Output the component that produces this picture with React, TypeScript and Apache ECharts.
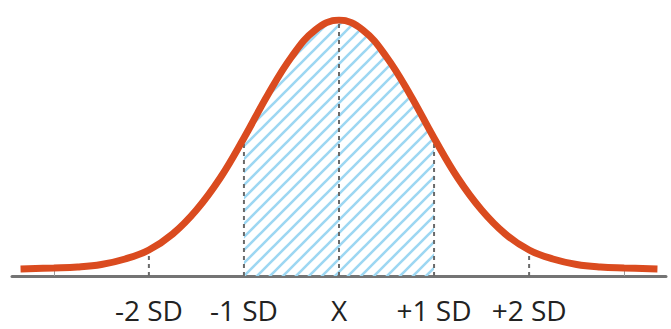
import React, { useEffect, useRef } from "react";
import * as echarts from "echarts";

// x positions in SD units, curve heights (px above the axis)
const xs = [-3.35, -3, -2.75, -2.5, -2.25, -2, -1.75, -1.5, -1.25, -1, -0.75, -0.5, -0.25, 0, 0.25, 0.5, 0.75, 1, 1.25, 1.5, 1.75, 2, 2.25, 2.5, 2.75, 3, 3.35];
const curve = [7, 8, 9, 11.5, 17, 26, 42, 66, 98, 138, 181, 219, 246, 256, 246, 219, 181, 138, 98, 66, 42, 26, 17, 11.5, 9, 8, 7];
const guideXs = [-2, -1, 0, 1, 2];
const tickLabels = ["-2 SD", "-1 SD", "X", "+1 SD", "+2 SD"];
const edgeTicks = [-3, 3];
const shadeFrom = -1;
const shadeTo = 1;

const HATCH = 13;
const hatchSvg =
  `<svg xmlns='http://www.w3.org/2000/svg' width='${HATCH}' height='${HATCH}'>` +
  `<path d='M-2,2 L2,-2 M0,${HATCH} L${HATCH},0 M${HATCH - 2},${HATCH + 2} L${HATCH + 2},${HATCH - 2}' stroke='#9dd7f2' stroke-width='2.6' fill='none'/></svg>`;
const hatchUrl = "data:image/svg+xml;charset=utf-8," + encodeURIComponent(hatchSvg);

export default function App() {
  const ref = useRef<HTMLDivElement>(null);
  useEffect(() => {
    if (!ref.current) return;
    const chart = echarts.init(ref.current, undefined, { renderer: "svg" });
    const curveData = xs.map((x, i) => [x, curve[i]]);
    const shadeData = xs
      .map((x, i) => [x, curve[i]])
      .filter(([x]) => x >= shadeFrom && x <= shadeTo);
    const guideSeries = guideXs.map((gx) => {
      const i = xs.indexOf(gx);
      return {
        type: "line",
        data: [
          [gx, 0],
          [gx, curve[i]],
        ],
        showSymbol: false,
        symbol: "none",
        silent: true,
        z: 3,
        lineStyle: { color: "#6a6a6a", width: 2, type: [4, 4] },
      };
    });
    chart.setOption({
      animation: false,
      grid: { left: 12, right: 5, top: 20, bottom: 53 },
      xAxis: {
        type: "value",
        min: -3.44,
        max: 3.44,
        splitLine: { show: false },
        axisLine: { lineStyle: { color: "#747474", width: 3 } },
        axisTick: {
          show: true,
          inside: true,
          length: 5,
          customValues: edgeTicks,
          lineStyle: { color: "#9a9a9a", width: 1 },
        },
        axisLabel: {
          customValues: guideXs,
          formatter: (v: number) => tickLabels[guideXs.indexOf(Math.round(v))] ?? "",
          fontFamily: "Open Sans",
          fontSize: 28,
          lineHeight: 22,
          color: "#222222",
          margin: 23,
        },
      },
      yAxis: { type: "value", min: 0, max: 256, show: false },
      series: [
        {
          type: "line",
          data: shadeData,
          smooth: 0.4,
          showSymbol: false,
          symbol: "none",
          silent: true,
          z: 1,
          lineStyle: { width: 0 },
          areaStyle: {
            opacity: 1,
            color: { image: hatchUrl, repeat: "repeat", imageWidth: HATCH, imageHeight: HATCH },
          },
        },
        ...guideSeries,
        {
          type: "line",
          data: curveData,
          smooth: 0.4,
          showSymbol: false,
          symbol: "none",
          z: 5,
          lineStyle: { color: "#da4b1f", width: 7 },
        },
      ],
    });
    return () => chart.dispose();
  }, []);
  return (
    <div
      ref={ref}
      style={{ position: "fixed", left: 0, top: 0, width: 671, height: 329, background: "#ffffff" }}
    />
  );
}
